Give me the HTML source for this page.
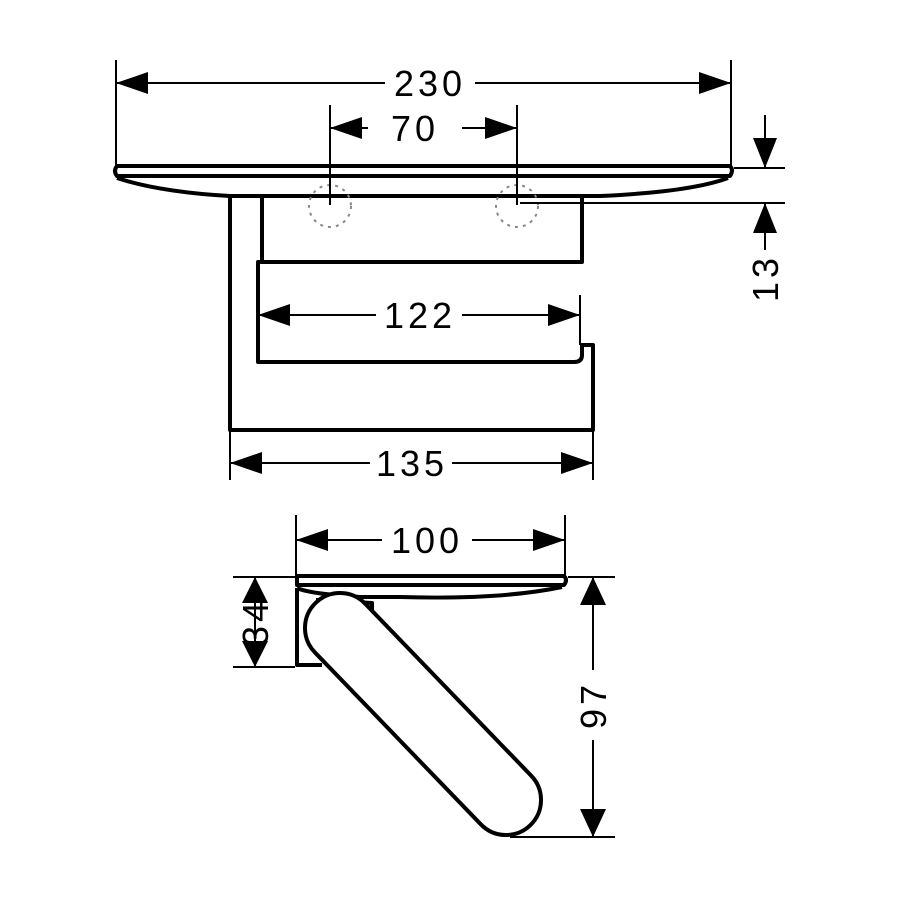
<!DOCTYPE html><html><head><style>body{margin:0;background:#fff}svg{display:block}text{font-family:"Liberation Sans",sans-serif;font-size:36px;letter-spacing:4px;fill:#000}</style></head><body>
<svg width="900" height="900" viewBox="0 0 900 900" xmlns="http://www.w3.org/2000/svg">
<g fill="none" stroke="#000" stroke-width="4" stroke-linejoin="round">
<path d="M117 166 H730 Q734 170 730 176 H117 Q113 171 117 166Z"/>
<path d="M117 178 Q160 192 230 196 H600 Q690 192 728 178"/>
<path d="M230 196 V430 H593 V345 H582 V355 Q582 362 574 362 H258 V262 H582 V196"/>
<path d="M262 196 V260"/>
<path d="M297 576 H564 Q568 580 564 585 H297 Z"/>
<path d="M297 588 Q310 594 360 597 H400 Q500 600 562 587"/>
<path d="M297 588 V665 H322"/>
<path d="M316 600 L372 603 V625"/>
<path d="M314.8 652.3 L480.8 824.3 A35 35 0 0 0 531.2 775.7 L365.2 603.7 A35 35 0 0 0 314.8 652.3 Z" fill="#fff"/>
</g>
<g fill="none" stroke="#888" stroke-width="2" stroke-dasharray="3 5">
<circle cx="330" cy="206" r="21"/><circle cx="517" cy="206" r="21"/>
</g>
<g stroke="#000" stroke-width="2" fill="none">
<path d="M116 60 V166 M731 60 V166 M330 105 V205 M517 105 V205"/>
<path d="M734 168 H785 M520 203 H785"/>
<path d="M580 295 V345"/>
<path d="M230 430 V480 M593 430 V480"/>
<path d="M296 515 V575 M565 515 V575"/>
<path d="M233 577 H295 M233 667 H295"/>
<path d="M568 577 H615 M510 837 H615"/>
<path d="M116 83 H385 M475 83 H731"/>
<path d="M330 128 H368 M462 128 H517"/>
<path d="M258 315 H376 M462 315 H580"/>
<path d="M230 463 H370 M452 463 H593"/>
<path d="M296 540 H382 M472 540 H565"/>
<path d="M765 115 V168 M765 203 V250"/>
<path d="M255 577 V667"/>
<path d="M593 577 V670 M593 740 V837"/>
</g>
<g fill="#000">
<path d="M116 83 l32 -11 v22z M731 83 l-32 -11 v22z"/>
<path d="M330 128 l32 -11 v22z M517 128 l-32 -11 v22z"/>
<path d="M258 315 l32 -11 v22z M580 315 l-32 -11 v22z"/>
<path d="M230 463 l32 -11 v22z M593 463 l-32 -11 v22z"/>
<path d="M296 540 l32 -11 v22z M565 540 l-32 -11 v22z"/>
<path d="M765 168 l-12 -30 h24z M765 203 l-12 30 h24z"/>
<path d="M255 577 l-13 26 h26z M255 667 l-13 -26 h26z"/>
<path d="M593 577 l-13 28 h26z M593 837 l-13 -28 h26z"/>
</g>
<text x="430" y="96" text-anchor="middle">230</text>
<text x="415" y="141" text-anchor="middle">70</text>
<text x="420" y="328" text-anchor="middle">122</text>
<text x="412" y="476" text-anchor="middle">135</text>
<text x="427" y="553" text-anchor="middle">100</text>
<text transform="translate(778,278) rotate(-90)" text-anchor="middle">13</text>
<text transform="translate(268,622) rotate(-90)" text-anchor="middle">34</text>
<text transform="translate(606,705) rotate(-90)" text-anchor="middle">97</text>
</svg>
</body></html>
